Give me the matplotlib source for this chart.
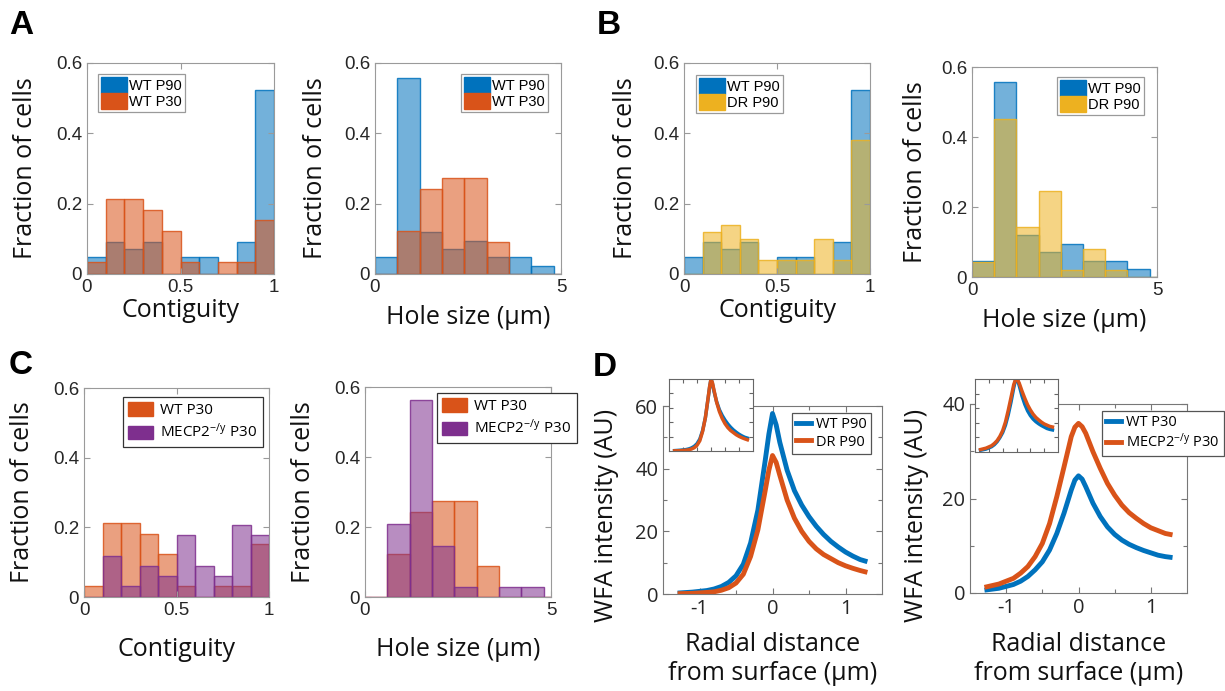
import numpy as np
import matplotlib
matplotlib.use("Agg")
import matplotlib.pyplot as plt
from matplotlib.colors import to_rgba
from matplotlib.patches import Patch
from matplotlib.lines import Line2D

plt.rcParams["font.family"] = ["Liberation Sans", "DejaVu Sans"]
plt.rcParams["axes.unicode_minus"] = False
plt.rcParams["mathtext.fontset"] = "custom"
plt.rcParams["mathtext.rm"] = "Open Sans"
plt.rcParams["mathtext.it"] = "Open Sans:italic"
plt.rcParams["mathtext.default"] = "regular"

# -------------------------------------------------
# Data
# -------------------------------------------------
contig_bins = [0.0, 0.1, 0.2, 0.3, 0.4, 0.5, 0.6, 0.7, 0.8, 0.9]
hole_bins = [0.0, 0.6, 1.2, 1.8, 2.4, 3.0, 3.6, 4.2, 4.8]

wt_p90_contig = [0.047, 0.092, 0.071, 0.092, 0.0, 0.047, 0.047, 0.0, 0.092, 0.524]
wt_p30_contig = [0.033, 0.213, 0.213, 0.182, 0.123, 0.033, 0.0, 0.033, 0.033, 0.153]
dr_p90_contig = [0.0, 0.120, 0.138, 0.100, 0.040, 0.040, 0.040, 0.100, 0.040, 0.380]
mecp2_p30_contig = [0.0, 0.119, 0.031, 0.090, 0.059, 0.177, 0.088, 0.059, 0.208, 0.177]

wt_p90_hole = [0.047, 0.557, 0.119, 0.071, 0.095, 0.047, 0.047, 0.024, 0.0]
wt_p30_hole = [0.0, 0.123, 0.242, 0.273, 0.273, 0.090, 0.0, 0.0, 0.0]
dr_p90_hole = [0.043, 0.452, 0.143, 0.245, 0.021, 0.081, 0.021, 0.0, 0.0]
mecp2_p30_hole = [0.0, 0.208, 0.562, 0.147, 0.029, 0.0, 0.029, 0.029, 0.0]

radial_x = [-1.3, -1.1, -0.9, -0.8, -0.7, -0.6, -0.5, -0.4, -0.3, -0.2, -0.1, -0.05, 0.0,
            0.05, 0.1, 0.2, 0.3, 0.4, 0.5, 0.6, 0.7, 0.8, 0.9, 1.0, 1.1, 1.2, 1.3]
wfa_wt_p90 = [0.3, 0.6, 1.1, 1.6, 2.4, 3.7, 5.8, 9.5, 16.3, 26.8, 42.6, 51.0, 57.6,
              54.0, 48.4, 39.5, 33.0, 28.4, 24.7, 21.6, 19.0, 16.8, 15.0, 13.4, 12.1, 11.0, 10.3]
wfa_dr_p90 = [0.1, 0.2, 0.5, 0.7, 1.2, 2.0, 3.5, 6.3, 12.0, 20.5, 33.0, 39.5, 44.2,
              42.0, 37.9, 30.0, 24.2, 20.0, 16.8, 14.4, 12.6, 11.3, 10.0, 9.0, 8.2, 7.5, 6.9]
wfa_wt_p30 = [0.6, 1.0, 1.8, 2.5, 3.5, 4.9, 6.6, 9.1, 12.6, 16.9, 21.8, 23.9, 24.8,
              24.1, 22.5, 19.0, 16.2, 14.0, 12.4, 11.2, 10.3, 9.6, 9.0, 8.5, 8.0, 7.7, 7.5]
wfa_mecp2_p30 = [1.2, 1.9, 3.1, 4.2, 5.6, 7.7, 10.5, 14.7, 20.4, 26.7, 33.1, 35.1, 35.9,
                 35.2, 33.8, 29.9, 26.4, 23.2, 20.7, 18.6, 17.0, 15.8, 14.7, 13.8, 13.2, 12.6, 12.3]

BLUE = "#0072BD"
ORANGE = "#D95319"
YELLOW = "#EDB120"
PURPLE = "#7E2F8E"

W, H = 1225, 691
fig = plt.figure(figsize=(W / 100, H / 100), dpi=100)


def px_axes(box):
    x0, y0, x1, y1 = box
    return fig.add_axes([x0 / W, 1 - y1 / H, (x1 - x0) / W, (y1 - y0) / H])


def style_box(ax, edge="#9a9a9a", labelsize=13.5, family="Liberation Sans"):
    ax.tick_params(which="both", direction="in", top=True, right=True,
                   width=0.8, color=edge, labelcolor="#262626", labelsize=labelsize)
    ax.tick_params(which="major", length=4)
    ax.tick_params(which="minor", length=3)
    for lab in ax.get_xticklabels() + ax.get_yticklabels():
        lab.set_family(family)
    for s in ax.spines.values():
        s.set_color(edge)
        s.set_linewidth(0.8)


def place_labels(ax, box, xlabel, ylabel, xlab_y, ylab_x, ylab_y=None):
    x0, y0, x1, y1 = box
    ax.set_xlabel(xlabel, fontsize=18, family="Open Sans", color="#111111")
    ax.set_ylabel(ylabel, fontsize=18, family="Open Sans", color="#111111", va="center")
    ax.xaxis.label.set_va("center")
    ax.xaxis.set_label_coords(0.5, (y1 - xlab_y) / (y1 - y0))
    if ylab_y is None:
        ylab_y = (y0 + y1) / 2
    ax.yaxis.set_label_coords((ylab_x - x0) / (x1 - x0), (y1 - ylab_y) / (y1 - y0))


def add_legend(ax, handles, labels, x, y, **kw):
    opts = dict(loc="upper left", bbox_to_anchor=(x / W, 1 - y / H),
                bbox_transform=fig.transFigure, borderaxespad=0, frameon=True,
                fancybox=False, framealpha=1)
    opts.update(kw)
    leg = ax.legend(handles, labels, **opts)
    leg.get_frame().set_linewidth(0.9)
    return leg


def hist_panel(box, bins, width, series, xlim, xticks, xticklabels, xlabel,
               xlab_y, ylab_x, legend_xy, legend_style):
    ax = px_axes(box)
    for heights, color, _ in series:
        ax.bar(bins, heights, width=width, align="edge",
               facecolor=to_rgba(color, 0.55), edgecolor=to_rgba(color, 0.85), linewidth=1.0)
    ax.set_xlim(*xlim)
    ax.set_ylim(0, 0.6)
    ax.set_xticks(xticks)
    ax.set_xticklabels(xticklabels)
    ax.set_yticks([0, 0.2, 0.4, 0.6])
    ax.set_yticklabels(["0", "0.2", "0.4", "0.6"])
    style_box(ax)
    place_labels(ax, box, xlabel, "Fraction of cells", xlab_y, ylab_x)
    handles = [Patch(facecolor=c, edgecolor=c) for _, c, _ in series]
    labels = [lab for _, _, lab in series]
    add_legend(ax, handles, labels, *legend_xy, **legend_style)
    return ax


legend_ab = dict(fontsize=10.5, handlelength=1.8, handleheight=1.3, handletextpad=0.15,
                 borderpad=0.2, labelspacing=0.0, edgecolor="#9a9a9a")
legend_c = dict(prop={"family": "Open Sans", "size": 11}, handlelength=1.6, handleheight=0.95,
                handletextpad=0.5, borderpad=0.35, labelspacing=0.3, edgecolor="#333333")

# -------------------------------------------------
# Panel A
# -------------------------------------------------
hist_panel((87, 63, 274, 274), contig_bins, 0.1,
           [(wt_p90_contig, BLUE, "WT P90"), (wt_p30_contig, ORANGE, "WT P30")],
           (0, 1), [0, 0.5, 1], ["0", "0.5", "1"], "Contiguity", 311, 26, (98, 74), legend_ab)
hist_panel((375, 63, 561, 274), hole_bins, 0.6,
           [(wt_p90_hole, BLUE, "WT P90"), (wt_p30_hole, ORANGE, "WT P30")],
           (0, 5), [0, 5], ["0", "5"], "Hole size (µm)", 318, 315, (461, 74), legend_ab)

# -------------------------------------------------
# Panel B
# -------------------------------------------------
hist_panel((684, 63, 870, 274), contig_bins, 0.1,
           [(wt_p90_contig, BLUE, "WT P90"), (dr_p90_contig, YELLOW, "DR P90")],
           (0, 1), [0, 0.5, 1], ["0", "0.5", "1"], "Contiguity", 311, 625, (696, 75), legend_ab)
hist_panel((972, 67, 1157, 277), hole_bins, 0.6,
           [(wt_p90_hole, BLUE, "WT P90"), (dr_p90_hole, YELLOW, "DR P90")],
           (0, 5), [0, 5], ["0", "5"], "Hole size (µm)", 320, 915, (1057, 77), legend_ab)

# -------------------------------------------------
# Panel C
# -------------------------------------------------
mecp2_label = "MECP2$^{-/y}$ P30"
hist_panel((84, 388, 269, 597), contig_bins, 0.1,
           [(wt_p30_contig, ORANGE, "WT P30"), (mecp2_p30_contig, PURPLE, mecp2_label)],
           (0, 1), [0, 0.5, 1], ["0", "0.5", "1"], "Contiguity", 649, 23, (123, 397), legend_c)
hist_panel((365, 387, 551, 597), hole_bins, 0.6,
           [(wt_p30_hole, ORANGE, "WT P30"), (mecp2_p30_hole, PURPLE, mecp2_label)],
           (0, 5), [0, 5], ["0", "5"], "Hole size (µm)", 649, 303, (437, 393), legend_c)

# -------------------------------------------------
# Panel D: WFA intensity profiles with normalised insets
# -------------------------------------------------
legend_d = dict(prop={"family": "Open Sans", "size": 10.5}, handlelength=1.0, handletextpad=0.35,
                borderpad=0.3, labelspacing=0.15, edgecolor="#555555")


def profile_panel(box, inset_box, curves, ymax, yticks, yminor, ylab_x, legend_xy):
    ax = px_axes(box)
    for vals, color, _ in curves:
        ax.plot(radial_x, vals, color=color, lw=3.5, solid_capstyle="butt")
    ax.set_xlim(-1.5, 1.5)
    ax.set_ylim(0, ymax)
    ax.set_xticks([-1, 0, 1])
    ax.set_xticklabels(["-1", "0", "1"])
    ax.set_xticks([-0.5, 0.5], minor=True)
    ax.set_yticks(yticks)
    ax.set_yticklabels([str(v) for v in yticks])
    ax.set_yticks(yminor, minor=True)
    style_box(ax, edge="#777777", labelsize=14.5, family="Open Sans")
    place_labels(ax, box, "Radial distance\nfrom surface (µm)", "WFA intensity (AU)",
                 659, ylab_x, 515)
    handles = [Line2D([], [], color=c, lw=3.5) for _, c, _ in curves]
    add_legend(ax, handles, [lab for _, _, lab in curves], *legend_xy, **legend_d)

    ins = px_axes(inset_box)
    ins.set_facecolor("white")
    for vals, color, _ in curves:
        v = np.asarray(vals)
        ins.plot(radial_x, v / v.max(), color=color, lw=2.5)
    ins.set_xlim(-1.5, 1.5)
    ins.set_ylim(0, 1)
    ins.set_xticks([-1, -0.5, 0, 0.5, 1])
    ins.set_yticks([0.2, 0.4, 0.6, 0.8])
    ins.set_xticklabels([])
    ins.set_yticklabels([])
    style_box(ins, edge="#666666")
    ins.tick_params(length=3)
    return ax


profile_panel((663, 406, 882, 594), (669, 379, 753, 451),
              [(wfa_wt_p90, BLUE, "WT P90"), (wfa_dr_p90, ORANGE, "DR P90")],
              60, [0, 20, 40, 60], [10, 30, 50], 606, (792, 413))
profile_panel((970, 404, 1187, 593), (975, 379, 1058, 452),
              [(wfa_wt_p30, BLUE, "WT P30"), (wfa_mecp2_p30, ORANGE, mecp2_label)],
              40, [0, 20, 40], [10, 30], 917, (1102, 411))

# -------------------------------------------------
# Panel letters
# -------------------------------------------------
for letter, x, y in [("A", 9, 25), ("B", 597, 25), ("C", 9, 365), ("D", 593, 368)]:
    fig.text(x / W, 1 - y / H, letter, fontsize=24, fontweight="bold",
             family="Liberation Sans", ha="left", va="center")

fig.savefig("out.png", dpi=100)
